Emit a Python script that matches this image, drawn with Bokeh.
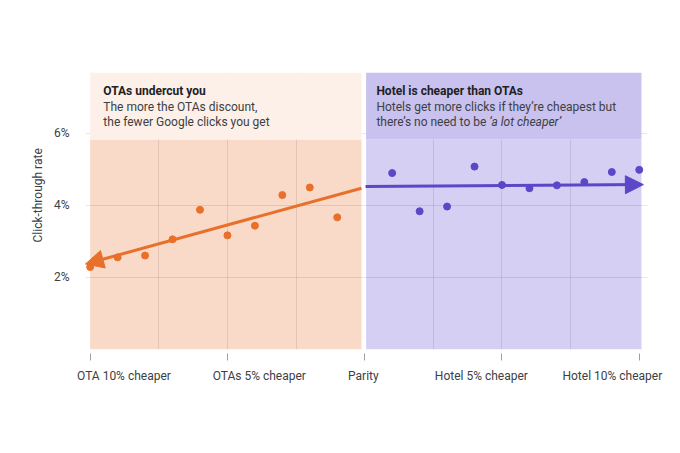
from bokeh.plotting import figure
from bokeh.models import (Range1d, FixedTicker, Arrow, NormalHead, LinearAxis, Title)
from bokeh.core.properties import value
from bokeh.embed import file_html
from bokeh.resources import INLINE

# ---------------- data ----------------
ota_x = [-10, -9, -8, -7, -6, -5, -4, -3, -2, -1]
ota_ctr = [2.29, 2.56, 2.61, 3.06, 3.88, 3.17, 3.44, 4.29, 4.50, 3.67]
hotel_x = [1, 2, 3, 4, 5, 6, 7, 8, 9, 10]
hotel_ctr = [4.90, 3.84, 3.97, 5.08, 4.57, 4.48, 4.56, 4.65, 4.93, 4.99]

# trend lines (start -> arrow tip)
ota_trend_x = [-0.12, -10.17]
ota_trend_y = [4.48, 2.375]
hotel_trend_x = [0.03, 10.15]
hotel_trend_y = [4.53, 4.58]

x_tick_values = [-10, -5, 0, 5, 10]
x_tick_labels = ["OTA 10% cheaper", "OTAs 5% cheaper", "Parity", "Hotel 5% cheaper", "Hotel 10% cheaper"]
x_label_pos = [-8.77, -3.84, -0.05, 4.25, 9.02]
x_grid_values = [-7.5, -5, -2.5, 2.5, 5, 7.5]
y_tick_values = [2, 4, 6]
y_tick_labels = ["2%", "4%", "6%"]

# panels
band_left = [-10, 0.05]
band_right = [-0.12, 10.08]
header_bottom = 5.833
header_top = 7.694

ORANGE = "#e8702a"
PURPLE = "#5b47c8"
FONT = "Roboto"
TXT = "#3c4043"
TITLE = "#202124"

p = figure(width=680, height=453, output_backend="svg", toolbar_location=None,
           x_range=Range1d(-10.17, 10.30), y_range=Range1d(0, header_top),
           min_border_left=85, min_border_right=33, min_border_top=72, min_border_bottom=104)
p.outline_line_color = None
p.background_fill_color = "white"

# body bands (below grid)
p.quad(left=[band_left[0]], right=[band_right[0]], bottom=[0], top=[header_bottom],
       fill_color="#f9d9c8", line_color=None, level="image")
p.quad(left=[band_left[1]], right=[band_right[1]], bottom=[0], top=[header_bottom],
       fill_color="#d5cff3", line_color=None, level="image")
# header bands (above grid)
p.quad(left=[band_left[0]], right=[band_right[0]], bottom=[header_bottom], top=[header_top],
       fill_color="#fdf0e8", line_color=None)
p.quad(left=[band_left[1]], right=[band_right[1]], bottom=[header_bottom], top=[header_top],
       fill_color="#c9c1ee", line_color=None)

# grid
p.xgrid.ticker = FixedTicker(ticks=x_grid_values)
p.ygrid.ticker = FixedTicker(ticks=y_tick_values)
for g in (p.xgrid, p.ygrid):
    g.grid_line_color = "#000000"
    g.grid_line_alpha = 0.09
    g.grid_line_width = 1

# x axis 1: tick marks only
xa = p.xaxis[0]
xa.ticker = FixedTicker(ticks=x_tick_values)
xa.axis_line_color = None
xa.major_tick_line_color = "#9e9e9e"
xa.major_tick_in = -4
xa.major_tick_out = 11
xa.minor_tick_line_color = None
xa.major_label_overrides = {v: "" for v in x_tick_values}
xa.major_label_standoff = 0
xa.major_label_text_font_size = "0px"

# x axis 2: labels only
xb = LinearAxis(ticker=FixedTicker(ticks=x_label_pos),
                major_label_overrides={v: l for v, l in zip(x_label_pos, x_tick_labels)})
xb.axis_line_color = None
xb.major_tick_line_color = None
xb.major_tick_in = 0
xb.major_tick_out = 0
xb.minor_tick_line_color = None
xb.major_label_standoff = 8
xb.major_label_text_font = FONT
xb.major_label_text_font_size = "12px"
xb.major_label_text_color = TXT
p.add_layout(xb, "below")

ya = p.yaxis[0]
ya.ticker = FixedTicker(ticks=y_tick_values)
ya.major_label_overrides = {v: l for v, l in zip(y_tick_values, y_tick_labels)}
ya.axis_line_color = None
ya.major_tick_line_color = None
ya.major_tick_in = 0
ya.major_tick_out = 0
ya.minor_tick_line_color = None
ya.major_label_standoff = 16
ya.major_label_text_font = FONT
ya.major_label_text_font_size = "12px"
ya.major_label_text_color = TXT

# y axis title
p.add_layout(Title(text="Click-through rate", align="left", offset=107, standoff=12,
                   text_font=FONT, text_font_size="12px", text_font_style="normal",
                   text_color=TXT), "left")

# header texts
def txt(x, y, s, style="normal", color=TXT):
    p.text(x=[x], y=[y], text=[s], text_font=value(FONT), text_font_size="12px",
           text_font_style=style, text_color=color, text_baseline="middle", text_align="left")

txt(-9.52, 7.194, "OTAs undercut you", "bold", TITLE)
txt(-9.52, 6.736, "The more the OTAs discount,")
txt(-9.52, 6.306, "the fewer Google clicks you get")
txt(0.425, 7.194, "Hotel is cheaper than OTAs", "bold", TITLE)
txt(0.425, 6.736, "Hotels get more clicks if they’re cheapest but")
txt(0.425, 6.306, "there’s no need to be ")
txt(4.54, 6.306, "‘a lot cheaper’", "italic")

# points
p.scatter(ota_x, ota_ctr, size=7, color=ORANGE)
p.scatter(hotel_x, hotel_ctr, size=7, color=PURPLE)

# trend arrows
p.add_layout(Arrow(end=NormalHead(size=18, fill_color=ORANGE, line_color=ORANGE),
                   x_start=ota_trend_x[0], y_start=ota_trend_y[0],
                   x_end=ota_trend_x[1], y_end=ota_trend_y[1],
                   line_color=ORANGE, line_width=3))
p.add_layout(Arrow(end=NormalHead(size=18, fill_color=PURPLE, line_color=PURPLE),
                   x_start=hotel_trend_x[0], y_start=hotel_trend_y[0],
                   x_end=hotel_trend_x[1], y_end=hotel_trend_y[1],
                   line_color=PURPLE, line_width=3))

open("out.html", "w").write(file_html(p, INLINE))
